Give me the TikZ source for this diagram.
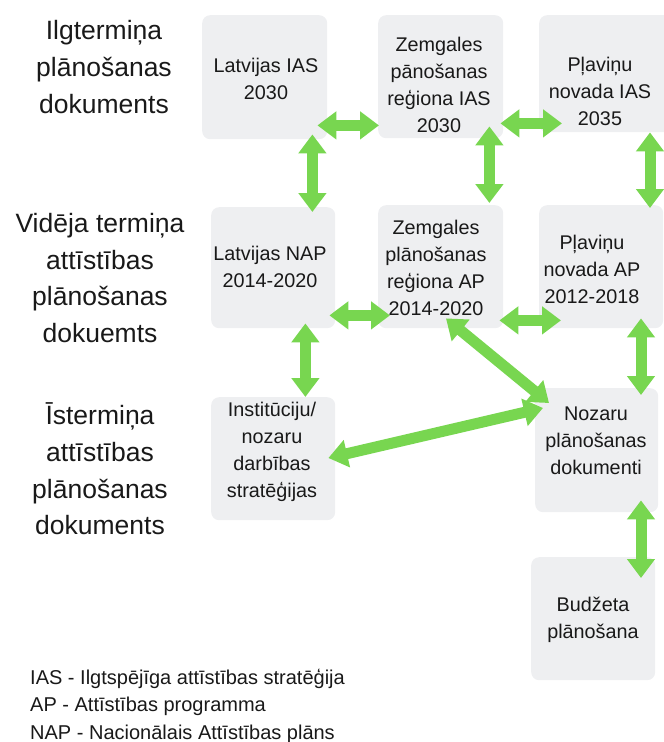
\documentclass[tikz,border=0pt]{standalone}
\usepackage{fontspec}
\setmainfont{Liberation Sans}
\usetikzlibrary{arrows.meta,calc}
\definecolor{boxgray}{RGB}{238,239,241}
\definecolor{arrgreen}{RGB}{120,214,80}
\definecolor{ink}{RGB}{25,25,25}
\begin{document}
\begin{tikzpicture}[x=1pt,y=-1pt,
  box/.style={fill=boxgray, rounded corners=8pt, anchor=north west, inner sep=0pt},
  btxt/.style={align=center, font=\fontsize{19.8}{27}\selectfont, text=ink, inner sep=0pt},
  side/.style={align=center, font=\fontsize{26.5}{36.7}\selectfont, text=ink, inner sep=0pt},
  legend/.style={align=left, anchor=west, font=\fontsize{20}{27.5}\selectfont, text=ink, inner sep=0pt},
  dbl/.style={draw=arrgreen, line width=11pt, {Triangle[length=19pt,width=27pt]}-{Triangle[length=19pt,width=27pt]}}]
\useasboundingbox (0,0) rectangle (664,742);

% boxes
\node[box, minimum width=125pt, minimum height=124pt] (b1) at (202,15) {};
\node[box, minimum width=125pt, minimum height=123pt] (b2) at (378,15) {};
\node[box, minimum width=133pt, minimum height=117pt] (b3) at (539,15) {};
\node[box, minimum width=124pt, minimum height=121pt] (b4) at (211,207) {};
\node[box, minimum width=125pt, minimum height=123pt] (b5) at (378,205) {};
\node[box, minimum width=124pt, minimum height=123pt] (b6) at (539,205) {};
\node[box, minimum width=124pt, minimum height=123pt] (b7) at (211,397) {};
\node[box, minimum width=123pt, minimum height=124pt] (b8) at (535,388) {};
\node[box, minimum width=124pt, minimum height=123pt] (b9) at (531,557) {};

% box texts
\node[btxt] (t1) at (266,79) {Latvijas IAS\\2030};
\node[btxt] (t2) at (439,85) {Zemgales\\pānošanas\\reģiona IAS\\2030};
\node[btxt] (t3) at (600,91) {Pļaviņu\\novada IAS\\2035};
\node[btxt] (t4) at (270,267) {Latvijas NAP\\2014-2020};
\node[btxt] (t5) at (436,268) {Zemgales\\plānošanas\\reģiona AP\\2014-2020};
\node[btxt] (t6) at (592,269) {Pļaviņu\\novada AP\\2012-2018};
\node[btxt] (t7) at (272,452) {Institūciju/\\nozaru\\darbības\\stratēģijas};
\node[btxt] (t8) at (596,441) {Nozaru\\plānošanas\\dokumenti};
\node[btxt] (t9) at (593,620) {Budžeta\\plānošana};

% side labels
\node[side] (s1) at (104,67) {Ilgtermiņa\\plānošanas\\dokuments};
\node[side] (s2) at (100,278) {Vidēja termiņa\\attīstības\\plānošanas\\dokuemts};
\node[side] (s3) at (100,469) {Īstermiņa\\attīstības\\plānošanas\\dokuments};

% legend
\node[legend] (lg) at (30,706) {IAS - Ilgtspējīga attīstības stratēģija\\AP - Attīstības programma\\NAP - Nacionālais Attīstības plāns};

% arrows
\draw[dbl] ($(b1.south east)+(-10,-14)$) -- ($(b2.south west)+(1,-13)$);
\draw[dbl] ($(b2.south east)+(-3,-15)$) -- ($(b3.south west)+(23,-9)$);
\draw[dbl] ($(b1.south east)+(-15,-5)$) -- ($(b4.north east)+(-23,5)$);
\draw[dbl] ($(b2.south east)+(-14,-12)$) -- ($(b5.north east)+(-14,-2)$);
\draw[dbl] ($(b3.south west)+(111,0)$) -- ($(b6.north west)+(111,3)$);
\draw[dbl] ($(b4.south east)+(-6,-13)$) -- ($(b5.south west)+(12,-13)$);
\draw[dbl] ($(b5.south east)+(-4,-8)$) -- ($(b6.south west)+(22,-8)$);
\draw[dbl] ($(b4.south east)+(-30,-5)$) -- ($(b7.north east)+(-30,0)$);
\draw[dbl] ($(b5.south west)+(68,-10)$) -- ($(b8.north west)+(14,15)$);
\draw[dbl] ($(b7.north east)+(-7,61)$) -- ($(b8.north west)+(8,20)$);
\draw[dbl] ($(b6.south west)+(102,-10)$) -- ($(b8.north west)+(106,7)$);
\draw[dbl] ($(b8.south west)+(106,-12)$) -- ($(b9.north west)+(110,21)$);
\end{tikzpicture}
\end{document}
